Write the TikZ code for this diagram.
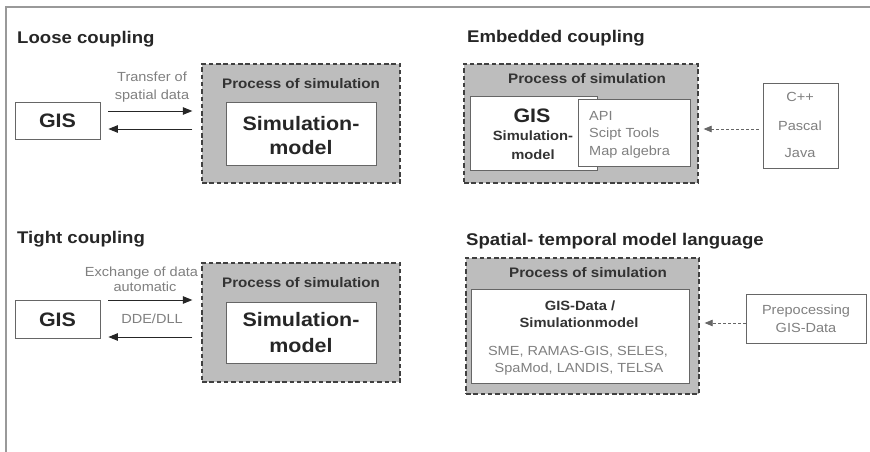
\documentclass[tikz,border=0pt]{standalone}
\usepackage{fontspec}
\setmainfont[FakeStretch=1.1]{Liberation Sans}
\usetikzlibrary{arrows.meta}
\colorlet{procfill}{black!26}
\colorlet{graytext}{black!50}
\colorlet{darktext}{black!85}
\newcommand\ftitle{\bfseries\fontsize{16.9}{19}\selectfont}
\newcommand\fbig{\bfseries\fontsize{19.5}{22}\selectfont}
\newcommand\fproc{\bfseries\fontsize{13.8}{16}\selectfont}
\newcommand\fsb{\bfseries\fontsize{13.4}{16}\selectfont}
\newcommand\fsm{\fontsize{13.2}{16}\selectfont}
\tikzset{
  ttl/.style={font=\ftitle, text=darktext, anchor=base west, inner sep=0pt},
  plainbox/.style={draw=black!60, fill=white, line width=0.8pt, inner sep=0pt},
  procbox/.style={draw=black!75, fill=procfill, line width=1.3pt, dash pattern=on 4.5pt off 2.8pt, inner sep=0pt},
  lbig/.style={font=\fbig, text=darktext, inner sep=0pt, text height=14pt, text depth=0pt},
  lproc/.style={font=\fproc, text=black!80, inner sep=0pt, text height=9.9pt, text depth=0pt},
  lsb/.style={font=\fsb, text=black!80, inner sep=0pt, text height=9.6pt, text depth=0pt},
  lsm/.style={font=\fsm, text=graytext, inner sep=0pt, text height=9.5pt, text depth=0pt},
  arr/.style={line width=0.9pt, draw=black!85, -{Triangle[length=9.5pt,width=7.5pt]}},
  darr/.style={line width=0.8pt, draw=black!60, dash pattern=on 3pt off 2pt, -{Triangle[length=8pt,width=6.5pt]}},
}
\begin{document}
\begin{tikzpicture}[x=1pt,y=-1pt]
\useasboundingbox (0,0) rectangle (870,452);
\fill[white] (0,0) rectangle (870,452);
% frame
\draw[black!40, line width=1.5pt] (870,7) -- (6,7) -- (6,452);

% ---------- Loose coupling ----------
\node[ttl] (t1) at (17,44) {Loose coupling};
\node[plainbox, minimum width=85pt, minimum height=37pt] (gisa) at (57.5,120.5) {};
\node[lbig] at (gisa.center) {GIS};
\node[procbox, minimum width=198pt, minimum height=119pt] (proca) at (301,123.5) {};
\node[lproc] at (301,84) {Process of simulation};
\node[plainbox, minimum width=150pt, minimum height=63pt] (sima) at (301,133.5) {};
\node[lbig] at (301,123) {Simulation-};
\node[lbig] at (301,147) {model};
\draw[arr, shorten <=8pt, shorten >=9pt] ([yshift=9.5pt]gisa.east) -- ([yshift=9.5pt]gisa.east -| proca.west);
\draw[arr, shorten <=9pt, shorten >=8pt] ([yshift=-8.5pt]gisa.east -| proca.west) -- ([yshift=-8.5pt]gisa.east);
\node[lsm] at (152,77) {Transfer of};
\node[lsm] at (152,95) {spatial data};

% ---------- Tight coupling ----------
\node[ttl] (t2) at (17,243) {Tight coupling};
\node[plainbox, minimum width=85pt, minimum height=38pt] (gisb) at (57.5,319) {};
\node[lbig] at (gisb.center) {GIS};
\node[procbox, minimum width=198pt, minimum height=119pt] (procb) at (301,322.5) {};
\node[lproc] at (301,283) {Process of simulation};
\node[plainbox, minimum width=150pt, minimum height=61pt] (simb) at (301,332.5) {};
\node[lbig] at (301,319) {Simulation-};
\node[lbig] at (301,345) {model};
\draw[arr, shorten <=8pt, shorten >=9pt] ([yshift=19pt]gisb.east) -- ([yshift=19pt]gisb.east -| procb.west);
\draw[arr, shorten <=9pt, shorten >=8pt] ([yshift=-18pt]gisb.east -| procb.west) -- ([yshift=-18pt]gisb.east);
\node[lsm] at (141.5,272) {Exchange of data};
\node[lsm] at (145,287) {automatic};
\node[lsm] at (152,319) {DDE/DLL};

% ---------- Embedded coupling ----------
\node[ttl] (t3) at (467,43) {Embedded coupling};
\node[procbox, minimum width=234pt, minimum height=119pt] (procc) at (581,123.5) {};
\node[lproc] at (587,79) {Process of simulation};
\node[plainbox, minimum width=127pt, minimum height=74pt] (gisc) at (533.5,133) {};
\node[plainbox, minimum width=112pt, minimum height=67pt] (apic) at (634,132.5) {};
\node[lbig] at (532,115) {GIS};
\node[lsb] at (533,136) {Simulation-};
\node[lsb] at (533,155) {model};
\node[lsm, anchor=west] at (589,116) {API};
\node[lsm, anchor=west] at (589,133) {Scipt Tools};
\node[lsm, anchor=west] at (589,151) {Map algebra};
\node[plainbox, minimum width=75pt, minimum height=85pt] (langc) at (800.5,125.5) {};
\node[lsm] at (800,97) {C++};
\node[lsm] at (800,126) {Pascal};
\node[lsm] at (800,153) {Java};
\draw[darr, shorten <=4pt, shorten >=5pt] ([yshift=-3.5pt]langc.west) -- ([yshift=-3.5pt]langc.west -| procc.east);

% ---------- Spatial-temporal model language ----------
\node[ttl] (t4) at (466,245) {Spatial- temporal model language};
\node[procbox, minimum width=233pt, minimum height=136pt] (procd) at (582.5,326) {};
\node[lproc] at (588,273) {Process of simulation};
\node[plainbox, minimum width=218pt, minimum height=94pt] (datad) at (580,336) {};
\node[lsb] at (580,306) {GIS-Data /};
\node[lsb] at (579,323) {Simulationmodel};
\node[lsm] at (578,351) {SME, RAMAS-GIS, SELES,};
\node[lsm] at (579,368) {SpaMod, LANDIS, TELSA};
\node[plainbox, minimum width=120pt, minimum height=49pt] (prepd) at (806,318.5) {};
\node[lsm] at (806,310) {Prepocessing};
\node[lsm] at (806,328) {GIS-Data};
\draw[darr, shorten <=0pt, shorten >=5pt] ([yshift=-4.5pt]prepd.west) -- ([yshift=-4.5pt]prepd.west -| procd.east);
\end{tikzpicture}
\end{document}
